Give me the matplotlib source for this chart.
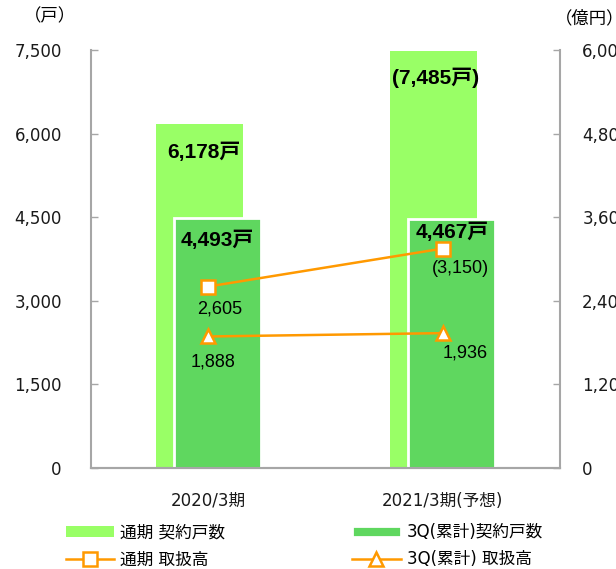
import matplotlib
matplotlib.use("Agg")
import matplotlib.pyplot as plt
import numpy as np

plt.rcParams["font.family"] = ["DejaVu Sans", "Noto Sans CJK JP"]
LABEL_FONT = ["Liberation Sans", "Noto Sans CJK JP"]

# data
periods = ["2020/3期", "2021/3期(予想)"]
full_units = [6178, 7485]          # 通期 契約戸数
q3_units = [4493, 4467]            # 3Q(累計)契約戸数
full_amount = [2605, 3150]         # 通期 取扱高 (億円)
q3_amount = [1888, 1936]           # 3Q(累計) 取扱高 (億円)
full_unit_labels = ["6,178戸", "(7,485戸)"]
q3_unit_labels = ["4,493戸", "4,467戸"]
full_amount_labels = ["2,605", "(3,150)"]
q3_amount_labels = ["1,888", "1,936"]

LIGHT = "#99FF66"
DARK = "#5FD75F"
ORANGE = "#FF9900"
GRID = "#A6A6A6"

fig = plt.figure(figsize=(6.16, 5.69), dpi=100)
ax = fig.add_axes([91 / 616, 1 - 468 / 569, 469 / 616, 418 / 569])
x = np.arange(len(periods))

b1 = ax.bar(x - 0.038, full_units, width=0.37, color=LIGHT, zorder=2)
b2 = ax.bar(x + 0.038, q3_units, width=0.37, color=DARK, edgecolor="white",
            linewidth=2, zorder=3)
ax.set_xlim(-0.5, 1.5)
ax.set_ylim(0, 7500)
ax.set_yticks(np.arange(0, 7501, 1500))
ax.set_yticklabels([f"{v:,}" for v in range(0, 7501, 1500)])
ax.set_xticks(x)
ax.set_xticklabels(periods)

ax2 = ax.twinx()
ax2.set_ylim(0, 6000)
ax2.set_yticks(np.arange(0, 6001, 1200))
ax2.set_yticklabels([f"{v:,}" for v in range(0, 6001, 1200)])
l1, = ax2.plot(x, full_amount, color=ORANGE, lw=1.8, marker="s", ms=10,
               mfc="white", mec=ORANGE, mew=1.8, zorder=5)
l2, = ax2.plot(x, q3_amount, color=ORANGE, lw=1.8, marker="^", ms=10,
               mfc="white", mec=ORANGE, mew=1.8, zorder=5)

for a in (ax, ax2):
    a.spines["top"].set_visible(False)
    for side in ("left", "right", "bottom"):
        a.spines[side].set_color(GRID)
        a.spines[side].set_linewidth(1.5)
    a.tick_params(axis="y", direction="in", length=5, width=1, color=GRID,
                  labelsize=12, labelcolor="#1a1a1a", pad=21)
ax2.tick_params(axis="y", pad=16)
ax.tick_params(axis="x", length=0, labelsize=12, pad=17, labelcolor="#1a1a1a")
ax2.spines["left"].set_visible(False)
ax.spines["right"].set_visible(False)
ax2.set_zorder(ax.get_zorder() + 1)
ax2.patch.set_visible(False)

# value labels (offsets in data units)
full_dx, full_dy = [-0.017, -0.03], [-509, -488]
q3_dx, q3_dy = [0.04, 0.04], [-403, -233]
for i in x:
    ax.text(i + full_dx[i], full_units[i] + full_dy[i], full_unit_labels[i],
            ha="center", va="center", fontsize=15, fontweight="bold",
            family=LABEL_FONT)
    ax.text(i + q3_dx[i], q3_units[i] + q3_dy[i], q3_unit_labels[i],
            ha="center", va="center", fontsize=15, fontweight="bold",
            family=LABEL_FONT)

amt_dx, amt_dy = [0.05, 0.077], [-323, -280]
q3a_dx, q3a_dy = [0.02, 0.094], [-367, -286]
for i in x:
    ax2.text(i + amt_dx[i], full_amount[i] + amt_dy[i], full_amount_labels[i],
             ha="center", va="center", fontsize=13, family=LABEL_FONT)
    ax2.text(i + q3a_dx[i], q3_amount[i] + q3a_dy[i], q3_amount_labels[i],
             ha="center", va="center", fontsize=13, family=LABEL_FONT)

fig.text(50 / 616, 1 - 16 / 569, "（戸）", ha="center", va="center", fontsize=12.5)
fig.text(555 / 616, 1 - 18 / 569, "（億円）", ha="left", va="center", fontsize=12.5)

fig.legend([b1, l1, b2, l2],
           ["通期 契約戸数", "通期 取扱高", "3Q(累計)契約戸数", "3Q(累計) 取扱高"],
           ncol=2, loc="lower left", bbox_to_anchor=(58 / 616, -0.012),
           frameon=False, fontsize=12, handlelength=2.9, handleheight=0.6,
           columnspacing=7.6, labelspacing=0.55, handletextpad=0.4,
           borderaxespad=0.05)

fig.savefig("out.png", dpi=100)
